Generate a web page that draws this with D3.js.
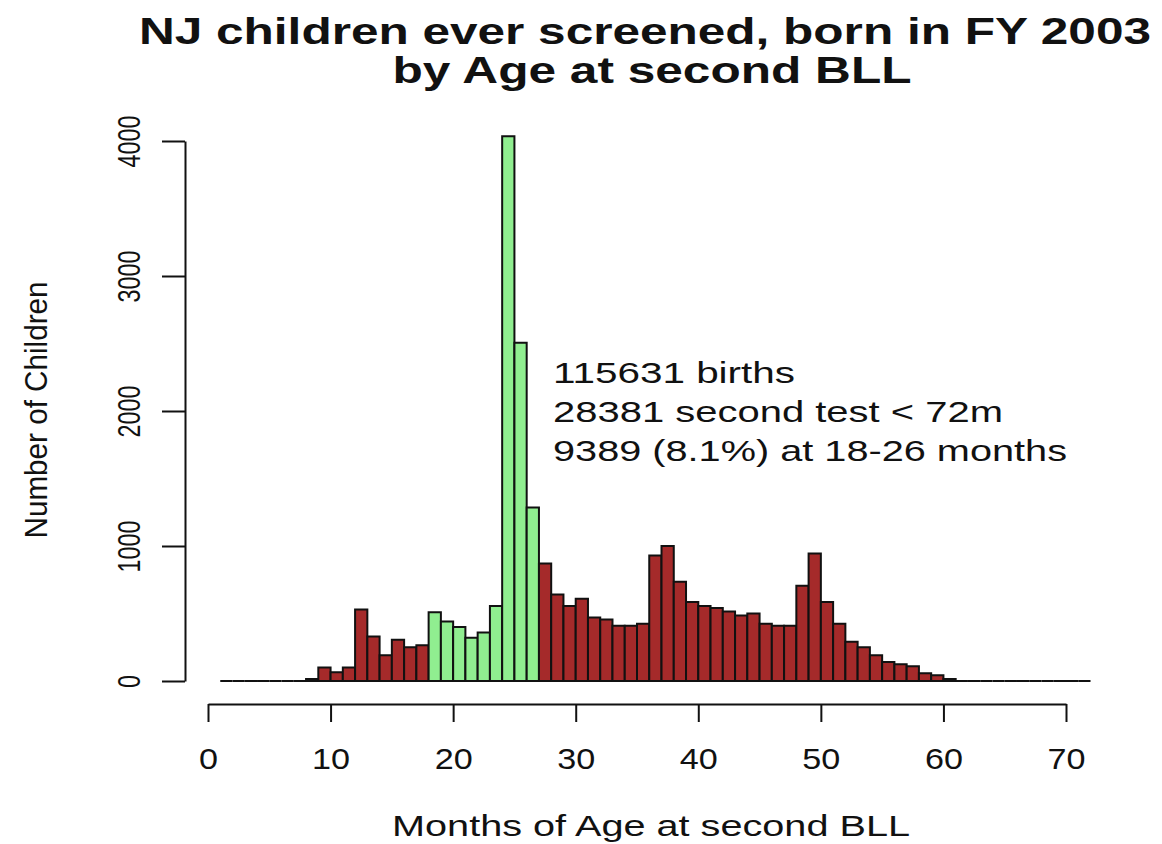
<!DOCTYPE html>
<html>
<head>
<meta charset="utf-8">
<script src="https://cdn.jsdelivr.net/npm/d3@7/dist/d3.min.js"></script>
<style>
  html, body { margin: 0; padding: 0; background: #fff; }
  svg { display: block; }
  text { font-family: "Liberation Sans", Arial, sans-serif; fill: #111; }
</style>
</head>
<body>
<svg id="chart" width="1162" height="844"></svg>
<script>
// Monthly bins [m, m+1) for m = 1..71
const binStarts = d3.range(1, 72);
const counts = [
  0, 0, 0, 0, 0, 0, 0,            // 1-7
  15, 100, 65, 100, 530, 330, 190, 305, 250, 265,   // 8-17
  510, 440, 400, 320, 360, 555, 4035, 2505, 1285,   // 18-26
  870, 640, 555, 610, 470, 455, 410, 410, 425,      // 27-35
  930, 1000, 735, 585, 555, 540, 515, 485, 500,     // 36-44
  425, 410, 410, 705, 945, 585, 425, 290, 250,      // 45-53
  190, 140, 125, 110, 57, 42, 15,                   // 54-60
  0, 0, 0, 0, 0, 0, 0, 0, 0, 0, 0                   // 61-71
];
const highlightRange = [18, 26];
const xTicks = [0, 10, 20, 30, 40, 50, 60, 70];
const yTicks = [0, 1000, 2000, 3000, 4000];
const titleLines = ["NJ children ever screened, born in FY 2003", "by Age at second BLL"];
const annotations = ["115631 births", "28381 second test < 72m", "9389 (8.1%) at 18-26 months"];
const xLabel = "Months of Age at second BLL";
const yLabel = "Number of Children";

const svg = d3.select("#chart");
const x = d3.scaleLinear().domain([0, 70]).range([208, 1066]);
const y = d3.scaleLinear().domain([0, 4000]).range([681, 141]);

// bars
const data = binStarts.map((m, i) => ({ m, v: counts[i] }));
svg.append("g").selectAll("path").data(data).join("path")
  .attr("d", d => {
    const x0 = x(d.m), x1 = x(d.m + 1), y0 = y(0), y1 = y(d.v);
    return `M${x0},${y0}V${y1}H${x1}V${y0}Z`;
  })
  .attr("fill", d => (d.m >= highlightRange[0] && d.m <= highlightRange[1]) ? "#90ee90" : "#a52a2a")
  .attr("stroke", "#111")
  .attr("stroke-width", 2)
  .attr("stroke-linejoin", "miter");

// x axis
const xAxisY = 704;
const gx = svg.append("g").attr("transform", `translate(0,${xAxisY})`)
  .call(d3.axisBottom(x).tickValues(xTicks).tickFormat(d3.format("d")).tickSize(18).tickSizeOuter(0).tickPadding(0));
gx.select(".domain").attr("stroke", "#111").attr("stroke-width", 2);
gx.selectAll(".tick line").attr("stroke", "#111").attr("stroke-width", 2);
gx.selectAll(".tick text").attr("font-size", 30).attr("fill", "#111")
  .attr("font-family", "Liberation Sans, Arial, sans-serif")
  .attr("dy", null).attr("y", 65)
  .attr("textLength", d => String(d).length * 19).attr("lengthAdjust", "spacingAndGlyphs");

// y axis
const yAxisX = 185;
const gy = svg.append("g").attr("transform", `translate(${yAxisX},0)`)
  .call(d3.axisLeft(y).tickValues(yTicks).tickFormat(d3.format("d")).tickSize(23).tickSizeOuter(0).tickPadding(0));
gy.select(".domain").attr("stroke", "#111").attr("stroke-width", 2);
gy.selectAll(".tick line").attr("stroke", "#111").attr("stroke-width", 2);
gy.selectAll(".tick text").attr("font-size", 27).attr("fill", "#111")
  .attr("font-family", "Liberation Sans, Arial, sans-serif")
  .attr("x", null).attr("dy", null)
  .attr("text-anchor", "middle")
  .attr("textLength", d => String(d).length * 13).attr("lengthAdjust", "spacingAndGlyphs")
  .attr("transform", "translate(-45,0) rotate(-90) scale(1,1.15)");

// titles
svg.append("text").attr("x", 645).attr("y", 44).attr("text-anchor", "middle")
  .attr("font-size", 36).attr("font-weight", "bold")
  .attr("textLength", 1012).attr("lengthAdjust", "spacingAndGlyphs").text(titleLines[0]);
svg.append("text").attr("x", 652).attr("y", 83).attr("text-anchor", "middle")
  .attr("font-size", 36).attr("font-weight", "bold")
  .attr("textLength", 519).attr("lengthAdjust", "spacingAndGlyphs").text(titleLines[1]);

// annotations
const annLens = [242, 450, 514];
annotations.forEach((t, i) => {
  svg.append("text").attr("x", 553).attr("y", 383 + i * 39)
    .attr("font-size", 29).attr("textLength", annLens[i]).attr("lengthAdjust", "spacingAndGlyphs")
    .text(t);
});

// axis titles
svg.append("text").attr("x", 651).attr("y", 836).attr("text-anchor", "middle")
  .attr("font-size", 29).attr("textLength", 518).attr("lengthAdjust", "spacingAndGlyphs").text(xLabel);
svg.append("text").attr("transform", "translate(47,410) rotate(-90) scale(1,1.15)").attr("text-anchor", "middle")
  .attr("font-size", 28).attr("textLength", 257).attr("lengthAdjust", "spacingAndGlyphs").text(yLabel);
</script>
</body>
</html>
